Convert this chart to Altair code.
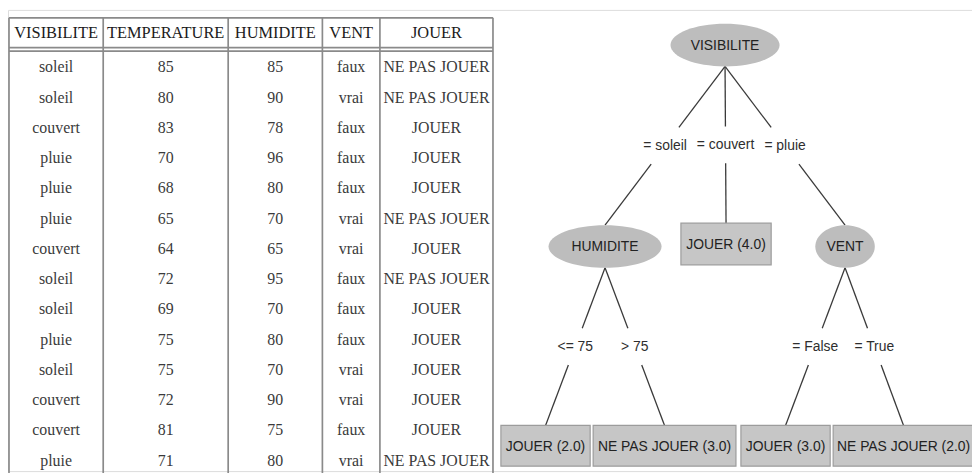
import altair as alt
import pandas as pd

# ------------------------------------------------------------------ data
COLUMNS = ["VISIBILITE", "TEMPERATURE", "HUMIDITE", "VENT", "JOUER"]
VISIBILITE = ["soleil", "soleil", "couvert", "pluie", "pluie", "pluie", "couvert",
              "soleil", "soleil", "pluie", "soleil", "couvert", "couvert", "pluie"]
TEMPERATURE = [85, 80, 83, 70, 68, 65, 64, 72, 69, 75, 75, 72, 81, 71]
HUMIDITE = [85, 90, 78, 96, 80, 70, 65, 95, 70, 80, 70, 90, 75, 80]
VENT = ["faux", "vrai", "faux", "faux", "faux", "vrai", "vrai",
        "faux", "faux", "faux", "vrai", "vrai", "faux", "vrai"]
JOUER = ["NE PAS JOUER", "NE PAS JOUER", "JOUER", "JOUER", "JOUER", "NE PAS JOUER", "JOUER",
         "NE PAS JOUER", "JOUER", "JOUER", "JOUER", "JOUER", "JOUER", "NE PAS JOUER"]

TREE_NODES = ["VISIBILITE", "HUMIDITE", "JOUER (4.0)", "VENT",
              "JOUER (2.0)", "NE PAS JOUER (3.0)", "JOUER (3.0)", "NE PAS JOUER (2.0)"]
NODE_KIND = ["test", "test", "leaf", "test", "leaf", "leaf", "leaf", "leaf"]
EDGE_PARENT = ["VISIBILITE", "VISIBILITE", "VISIBILITE", "HUMIDITE", "HUMIDITE", "VENT", "VENT"]
EDGE_CHILD = ["HUMIDITE", "JOUER (4.0)", "VENT", "JOUER (2.0)", "NE PAS JOUER (3.0)",
              "JOUER (3.0)", "NE PAS JOUER (2.0)"]
EDGE_LABEL = ["= soleil", "= couvert", "= pluie", "<= 75", "> 75", "= False", "= True"]

# ------------------------------------------------------------------ layout (not data)
COL_EDGES = [9, 104, 230, 325, 383, 497]
HEADER_TOP, HEADER_BOTTOM, HEADER_RULE2 = 16, 46, 49.5
HEADER_Y = 31
ROW0, ROW_STEP = 66, 30.5
TABLE_BOTTOM = 485
# node centre x, centre y, half width, half height
NODE_POS = {
    "VISIBILITE": (731, 43.5, 55, 21.5),
    "HUMIDITE": (610, 246.5, 57, 21.5),
    "JOUER (4.0)": (732, 244, 45.5, 21),
    "VENT": (852, 246.5, 30, 21.5),
    "JOUER (2.0)": (550, 447.5, 45, 20.5),
    "NE PAS JOUER (3.0)": (670, 447.5, 72, 20.5),
    "JOUER (3.0)": (792, 447.5, 45, 20.5),
    "NE PAS JOUER (2.0)": (911, 447.5, 71, 20.5),
}
LABEL_GAP = 18.5

XS = alt.Scale(domain=[8, 980], nice=False, zero=False)
YS = alt.Scale(domain=[8, 473], nice=False, zero=False, reverse=True)


def X(f="x"):
    return alt.X(f"{f}:Q", scale=XS, axis=None)


def Y(f="y"):
    return alt.Y(f"{f}:Q", scale=YS, axis=None)


# ------------------------------------------------------------------ table
centers = [(a + b) / 2 for a, b in zip(COL_EDGES[:-1], COL_EDGES[1:])]
header_df = pd.DataFrame({"x": centers, "y": [HEADER_Y] * len(COLUMNS), "t": COLUMNS})

cols = [VISIBILITE, TEMPERATURE, HUMIDITE, VENT, JOUER]
body_rows = []
for j, col in enumerate(cols):
    for i, v in enumerate(col):
        body_rows.append({"x": centers[j], "y": ROW0 + i * ROW_STEP, "t": str(v)})
body_df = pd.DataFrame(body_rows)

lines = []
for yy in (HEADER_TOP, HEADER_BOTTOM, HEADER_RULE2):
    lines.append({"x": COL_EDGES[0], "x2": COL_EDGES[-1], "y": yy, "y2": yy})
for xx in COL_EDGES:
    lines.append({"x": xx, "x2": xx, "y": HEADER_TOP, "y2": TABLE_BOTTOM})
lines_df = pd.DataFrame(lines)

table_lines = alt.Chart(lines_df).mark_rule(color="#8a8a8a", strokeWidth=1.7).encode(
    x=X(), x2="x2:Q", y=Y(), y2="y2:Q")
header_text = alt.Chart(header_df).mark_text(
    font="Liberation Serif", fontSize=16.5, color="#1c1c1c", baseline="middle", align="center"
).encode(x=X(), y=Y(), text="t:N")
body_text = alt.Chart(body_df).mark_text(
    font="Liberation Serif", fontSize=16, color="#3a3a3a", baseline="middle", align="center"
).encode(x=X(), y=Y(), text="t:N")

# ------------------------------------------------------------------ tree
segs, elabels = [], []
for p, c, lab in zip(EDGE_PARENT, EDGE_CHILD, EDGE_LABEL):
    px, py, _, ph = NODE_POS[p]
    cx, cy, _, ch = NODE_POS[c]
    x0, y0 = px, py + ph
    x1, y1 = cx, cy - ch
    ym = (y0 + y1) / 2

    def at(yy):
        return x0 + (x1 - x0) * (yy - y0) / (y1 - y0)

    ya, yb = ym - LABEL_GAP, ym + LABEL_GAP
    segs.append({"x": x0, "y": y0, "x2": at(ya), "y2": ya})
    segs.append({"x": at(yb), "y": yb, "x2": x1, "y2": y1})
    elabels.append({"x": at(ym), "y": ym, "t": lab})
segs_df = pd.DataFrame(segs)
elab_df = pd.DataFrame(elabels)

boxes, ells, ntext = [], [], []
K = 0.5523
for name, kind in zip(TREE_NODES, NODE_KIND):
    cx, cy, hw, hh = NODE_POS[name]
    ntext.append({"x": cx, "y": cy + 1, "t": name})
    if kind == "leaf":
        boxes.append({"x": cx - hw, "x2": cx + hw, "y": cy - hh, "y2": cy + hh})
    else:
        a = hh / hw
        path = (f"M -1 0 C -1 {-K*a:.4f} {-K:.4f} {-a:.4f} 0 {-a:.4f} "
                f"C {K:.4f} {-a:.4f} 1 {-K*a:.4f} 1 0 "
                f"C 1 {K*a:.4f} {K:.4f} {a:.4f} 0 {a:.4f} "
                f"C {-K:.4f} {a:.4f} -1 {K*a:.4f} -1 0 Z")
        ells.append({"x": cx, "y": cy, "shape": path, "sz": 4 * hw * hw})
boxes_df = pd.DataFrame(boxes)
ells_df = pd.DataFrame(ells)
ntext_df = pd.DataFrame(ntext)

edge_lines = alt.Chart(segs_df).mark_rule(color="#3a3a3a", strokeWidth=1.3).encode(
    x=X(), x2="x2:Q", y=Y(), y2="y2:Q")
edge_text = alt.Chart(elab_df).mark_text(
    font="Liberation Sans", fontSize=14, color="#2e2e2e", baseline="middle", align="center"
).encode(x=X(), y=Y(), text="t:N")
leaf_boxes = alt.Chart(boxes_df).mark_rect(
    fill="#c6c6c6", stroke="#9c9c9c", strokeWidth=1.2).encode(
    x=X(), x2="x2:Q", y=Y(), y2="y2:Q")
ellipses = alt.Chart(ells_df).mark_point(filled=True, opacity=1, fill="#bdbdbd", strokeWidth=0).encode(
    x=X(), y=Y(),
    shape=alt.Shape("shape:N", scale=None),
    size=alt.Size("sz:Q", scale=None))
node_text = alt.Chart(ntext_df).mark_text(
    font="Liberation Sans", fontSize=14, color="#222222", baseline="middle", align="center"
).encode(x=X(), y=Y(), text="t:N")

chart = alt.layer(
    table_lines, header_text, body_text,
    edge_lines, leaf_boxes, ellipses, edge_text, node_text
).properties(
    width=972, height=465,
    autosize=alt.AutoSizeParams(type="none"),
    padding=0,
).configure_view(stroke=None).configure(background="white")

chart.save("out.html", embed_options={"renderer": "svg", "actions": False})
